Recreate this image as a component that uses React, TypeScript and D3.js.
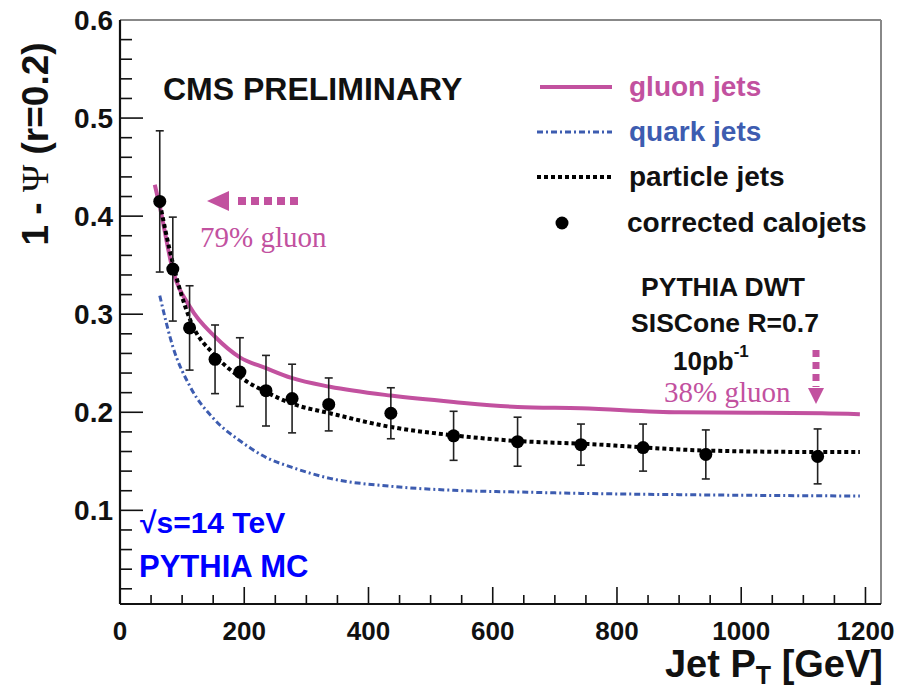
import React from 'react';
import * as d3 from 'd3';

// corrected calojets (points with error bars)
const calojetPt = [64, 85, 112, 153, 193, 235, 277, 336, 436, 537, 640, 742, 842, 943, 1123];
const calojetVal = [0.415, 0.346, 0.286, 0.254, 0.241, 0.222, 0.214, 0.208, 0.199, 0.176, 0.170, 0.167, 0.164, 0.157, 0.155];
const calojetErr = [0.072, 0.053, 0.043, 0.035, 0.035, 0.036, 0.035, 0.027, 0.026, 0.025, 0.025, 0.021, 0.024, 0.025, 0.028];

// gluon jets
const gluonPt = [56, 64, 85, 113, 153, 193, 235, 276, 338, 436, 537, 640, 742, 901, 1130, 1191];
const gluonVal = [0.432, 0.41, 0.345, 0.307, 0.277, 0.256, 0.245, 0.235, 0.226, 0.217, 0.2105, 0.2054, 0.204, 0.2, 0.199, 0.198];

// quark jets
const quarkPt = [64, 85, 113, 153, 193, 235, 276, 338, 436, 537, 640, 742, 900, 1191];
const quarkVal = [0.319, 0.267, 0.226, 0.192, 0.171, 0.154, 0.144, 0.1326, 0.1245, 0.1204, 0.1187, 0.1173, 0.116, 0.1146];

// particle jets
const particlePt = [62, 85, 113, 153, 193, 235, 276, 338, 436, 537, 640, 742, 943, 1123, 1191];
const particleVal = [0.42, 0.352, 0.294, 0.258, 0.236, 0.2207, 0.209, 0.199, 0.185, 0.1765, 0.1707, 0.168, 0.161, 0.1595, 0.1595];

const xTickLabels = ['0', '200', '400', '600', '800', '1000', '1200'];
const yTickLabels = ['0.1', '0.2', '0.3', '0.4', '0.5', '0.6'];

const GLUON = '#c2519f';
const QUARK = '#3d5cb0';
const SANS = '"Liberation Sans", Arial, sans-serif';
const SERIF = '"Liberation Serif", "Times New Roman", serif';

export default function App() {
  const W = 897, H = 695;
  const x = d3.scaleLinear().domain([0, 1225]).range([120, 881]);
  const y = d3.scaleLinear().domain([0.0045, 0.6]).range([604, 20]);

  const line = d3.line<[number, number]>()
    .x(d => x(d[0]))
    .y(d => y(d[1]))
    .curve(d3.curveMonotoneX);

  const gluonPath = line(gluonPt.map((p, i) => [p, gluonVal[i]]))!;
  const quarkPath = line(quarkPt.map((p, i) => [p, quarkVal[i]]))!;
  const particlePath = line(particlePt.map((p, i) => [p, particleVal[i]]))!;

  const xTicks = d3.range(0, 1201, 50);
  const yTicks = d3.range(1, 30).map(i => i * 0.02);

  return (
    <svg width={W} height={H} style={{ position: 'absolute', left: 0, top: 0, background: '#fff' }}
      fontFamily={SANS}>
      <rect x={0} y={0} width={W} height={H} fill="#fff" />
      {/* frame top/right */}
      <line x1={x(0)} y1={y(0.6)} x2={x(1225)} y2={y(0.6)} stroke="#888" strokeWidth={2} />
      <line x1={x(1225)} y1={y(0.6)} x2={x(1225)} y2={y(0.0045)} stroke="#888" strokeWidth={2} />

      {/* curves */}
      <path d={quarkPath} fill="none" stroke={QUARK} strokeWidth={3} strokeDasharray="6,3,2,3" />
      <path d={gluonPath} fill="none" stroke={GLUON} strokeWidth={4} />
      <path d={particlePath} fill="none" stroke="#000" strokeWidth={4} strokeDasharray="4,3" />

      {/* error bars and points */}
      {calojetPt.map((p, i) => {
        const cx = x(p);
        const y1 = y(calojetVal[i] + calojetErr[i]);
        const y2 = y(calojetVal[i] - calojetErr[i]);
        return (
          <g key={i}>
            <line x1={cx} x2={cx} y1={y1} y2={y2} stroke="#222" strokeWidth={1.6} />
            <line x1={cx - 4} x2={cx + 4} y1={y1} y2={y1} stroke="#222" strokeWidth={1.6} />
            <line x1={cx - 4} x2={cx + 4} y1={y2} y2={y2} stroke="#222" strokeWidth={1.6} />
            <circle cx={cx} cy={y(calojetVal[i])} r={6.5} fill="#000" />
          </g>
        );
      })}

      {/* axes */}
      <line x1={x(0)} y1={y(0.0045)} x2={x(1225)} y2={y(0.0045)} stroke="#111" strokeWidth={2.2} />
      <line x1={x(0)} y1={y(0.0045)} x2={x(0)} y2={y(0.6)} stroke="#111" strokeWidth={2.2} />
      {xTicks.map(v => {
        const major = v % 200 === 0;
        return (
          <line key={'xt' + v} x1={x(v)} x2={x(v)} y1={y(0.0045)} y2={y(0.0045) - (major ? 17 : 9)}
            stroke="#111" strokeWidth={1.6} />
        );
      })}
      {yTicks.map((v, i) => {
        const major = (i + 1) % 5 === 0;
        return (
          <line key={'yt' + i} x1={x(0)} x2={x(0) + (major ? 23 : 12)} y1={y(v)} y2={y(v)}
            stroke="#111" strokeWidth={1.6} />
        );
      })}
      {xTickLabels.map(t => (
        <text key={'xl' + t} x={x(+t)} y={640} textAnchor="middle" fontSize={26} fontWeight="bold" fill="#111">{t}</text>
      ))}
      {yTickLabels.map(t => (
        <text key={'yl' + t} x={113} y={y(+t) + 10} textAnchor="end" fontSize={28} fontWeight="bold" fill="#111">{t}</text>
      ))}

      {/* axis titles */}
      <text x={883} y={677} textAnchor="end" fontSize={38} fontWeight="bold" fill="#111">
        Jet P<tspan fontSize={25} dy={7}>T</tspan><tspan dy={-7}> [GeV]</tspan>
      </text>
      <text transform="translate(48,144) rotate(-90)" textAnchor="middle" fontSize={37} fontWeight="bold" fill="#111">
        1 - <tspan fontFamily={SERIF} fontWeight="normal">Ψ</tspan> (r=0.2)
      </text>

      {/* CMS label */}
      <text x={163} y={100} fontSize={32} fontWeight="bold" fill="#111">CMS PRELIMINARY</text>

      {/* legend */}
      <line x1={540} x2={612} y1={87} y2={87} stroke={GLUON} strokeWidth={4} />
      <text x={629} y={96} fontSize={28} fontWeight="bold" fill={GLUON}>gluon jets</text>
      <line x1={537} x2={612} y1={132} y2={132} stroke={QUARK} strokeWidth={3} strokeDasharray="6,3,2,3" />
      <text x={629} y={141} fontSize={28} fontWeight="bold" fill={QUARK}>quark jets</text>
      <line x1={537} x2={612} y1={177} y2={177} stroke="#000" strokeWidth={4} strokeDasharray="4,3" />
      <text x={629} y={186} fontSize={28} fontWeight="bold" fill="#111">particle jets</text>
      <circle cx={562} cy={223} r={6.5} fill="#000" />
      <text x={627} y={232} fontSize={28} fontWeight="bold" fill="#111">corrected calojets</text>

      {/* right info */}
      <text x={723} y={296} textAnchor="middle" fontSize={26.5} fontWeight="bold" fill="#111">PYTHIA DWT</text>
      <text x={725} y={332} textAnchor="middle" fontSize={26.5} fontWeight="bold" fill="#111">SISCone R=0.7</text>
      <text x={673} y={370} fontSize={26} fontWeight="bold" fill="#111">10pb<tspan fontSize={17} dy={-13}>-1</tspan></text>

      {/* 79% gluon arrow */}
      <line x1={238} x2={301} y1={201} y2={201} stroke={GLUON} strokeWidth={8} strokeDasharray="8,5" />
      <path d="M207,201 L229,191 L229,211 Z" fill={GLUON} />
      <text x={200} y={247} fontFamily={SERIF} fontSize={29} fill={GLUON}>79% gluon</text>

      {/* 38% gluon arrow */}
      <line x1={816} x2={816} y1={350} y2={387} stroke={GLUON} strokeWidth={7} strokeDasharray="7,5" />
      <path d="M816,404 L808,388 L824,388 Z" fill={GLUON} />
      <text x={664} y={402} fontFamily={SERIF} fontSize={29} fill={GLUON}>38% gluon</text>

      {/* MC labels */}
      <text x={140} y={533} fontSize={30} fontWeight="bold" fill="#0000ff">√s=14 TeV</text>
      <text x={139} y={577} fontSize={31} fontWeight="bold" fill="#0000ff">PYTHIA MC</text>
    </svg>
  );
}
